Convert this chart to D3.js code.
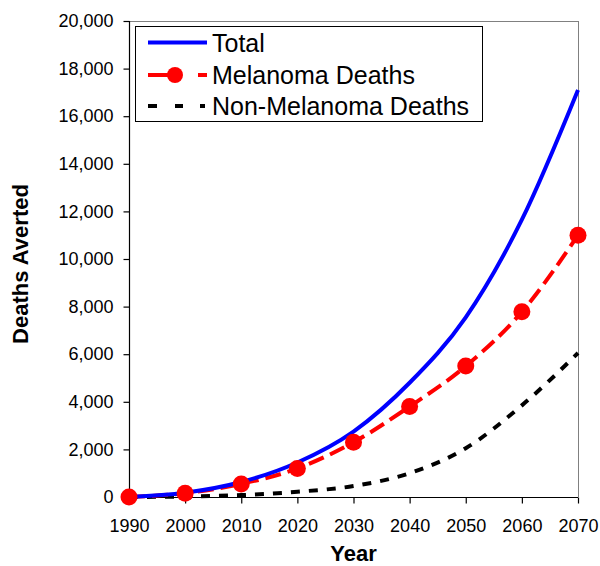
<!DOCTYPE html>
<html>
<head>
<meta charset="utf-8">
<script src="https://cdn.jsdelivr.net/npm/d3@7/dist/d3.min.js"></script>
<style>
  html, body { margin: 0; padding: 0; background: #fff; }
  svg { display: block; font-family: Arial, "Liberation Sans", sans-serif; }
</style>
</head>
<body>
<svg id="chart" width="600" height="566"></svg>
<script>
// ---- data ----
const years = [1990, 2000, 2010, 2020, 2030, 2040, 2050, 2060, 2070];
const totalDeaths = [0, 180, 630, 1450, 2750, 4800, 7550, 11650, 17100];
const melanomaDeaths = [0, 160, 550, 1200, 2300, 3800, 5500, 7780, 11000];
const nonMelanomaDeaths = [0, 20, 80, 220, 460, 1000, 2050, 3850, 6050];
const yTicks = [0, 2000, 4000, 6000, 8000, 10000, 12000, 14000, 16000, 18000, 20000];
const xTicks = [1990, 2000, 2010, 2020, 2030, 2040, 2050, 2060, 2070];
const legendLabels = ["Total", "Melanoma Deaths", "Non-Melanoma Deaths"];
const xTitle = "Year";
const yTitle = "Deaths Averted";

// ---- layout ----
const pL = 129, pR = 578, pT = 21, pB = 497;
const svg = d3.select("#chart");
const x = d3.scaleLinear().domain([1990, 2070]).range([pL, pR]);
const y = d3.scaleLinear().domain([0, 20000]).range([pB, pT]);
const fmt = d3.format(",");

// plot border (top/right grey)
svg.append("line").attr("x1", pL).attr("x2", pR).attr("y1", pT + 0.5).attr("y2", pT + 0.5)
  .attr("stroke", "#808080").attr("stroke-width", 1);
svg.append("line").attr("x1", pR + 0.5).attr("x2", pR + 0.5).attr("y1", pT).attr("y2", pB)
  .attr("stroke", "#808080").attr("stroke-width", 1);

// axes
const yAxis = d3.axisLeft(y).tickValues(yTicks).tickFormat(fmt).tickSize(6).tickPadding(10);
const gy = svg.append("g").attr("transform", `translate(${pL + 0.5},0)`).call(yAxis);
const xAxis = d3.axisBottom(x).tickValues(xTicks).tickFormat(d3.format("d")).tickSize(6).tickPadding(16);
const gx = svg.append("g").attr("transform", `translate(0,${pB + 0.5})`).call(xAxis);
[gx, gy].forEach(g => {
  g.selectAll(".domain").attr("stroke", "#000").attr("stroke-width", 1.2);
  g.selectAll(".tick line").attr("stroke", "#000").attr("stroke-width", 1.2);
  g.selectAll(".tick text").attr("font-size", 18).attr("fill", "#000")
    .attr("font-family", "Arial, 'Liberation Sans', sans-serif");
});
gy.selectAll(".domain").attr("d", `M0,${pT}V${pB}`);
gx.selectAll(".domain").attr("d", `M${pL},0H${pR}`);

// titles
svg.append("text").attr("x", (pL + pR) / 2).attr("y", 561)
  .attr("text-anchor", "middle").attr("font-size", 22).attr("font-weight", "bold").text(xTitle);
svg.append("text").attr("transform", `translate(28,${(pT + pB) / 2 + 5}) rotate(-90)`)
  .attr("text-anchor", "middle").attr("font-size", 22).attr("font-weight", "bold").text(yTitle);

// lines
const mk = arr => years.map((yr, i) => ({ yr, v: arr[i] }));
const line = d3.line().x(d => x(d.yr)).y(d => y(d.v)).curve(d3.curveMonotoneX);

const plot = svg.append("g");
plot.append("path").datum(mk(nonMelanomaDeaths)).attr("d", line)
  .attr("fill", "none").attr("stroke", "#000").attr("stroke-width", 4)
  .attr("stroke-dasharray", "9,9");
plot.append("path").datum(mk(melanomaDeaths)).attr("d", line)
  .attr("fill", "none").attr("stroke", "#ff0000").attr("stroke-width", 4)
  .attr("stroke-dasharray", "16,7");
plot.append("path").datum(mk(totalDeaths)).attr("d", line)
  .attr("fill", "none").attr("stroke", "#0000ff").attr("stroke-width", 4);
plot.selectAll("circle.mel").data(mk(melanomaDeaths)).enter().append("circle")
  .attr("class", "mel").attr("cx", d => x(d.yr)).attr("cy", d => y(d.v)).attr("r", 8.5)
  .attr("fill", "#ff0000");

// legend
const lg = svg.append("g");
lg.append("rect").attr("x", 135.5).attr("y", 26.5).attr("width", 347).attr("height", 95)
  .attr("fill", "#fff").attr("stroke", "#000").attr("stroke-width", 1);
const rowsY = [42.5, 75, 106];
lg.append("line").attr("x1", 148).attr("x2", 207).attr("y1", rowsY[0]).attr("y2", rowsY[0])
  .attr("stroke", "#0000ff").attr("stroke-width", 4);
lg.append("line").attr("x1", 148).attr("x2", 207).attr("y1", rowsY[1]).attr("y2", rowsY[1])
  .attr("stroke", "#ff0000").attr("stroke-width", 4).attr("stroke-dasharray", "23,27,9");
lg.append("circle").attr("cx", 175).attr("cy", rowsY[1]).attr("r", 8).attr("fill", "#ff0000");
lg.append("line").attr("x1", 148).attr("x2", 207).attr("y1", rowsY[2]).attr("y2", rowsY[2])
  .attr("stroke", "#000").attr("stroke-width", 4).attr("stroke-dasharray", "9,18,8,17,5");
legendLabels.forEach((t, i) => {
  lg.append("text").attr("x", 212).attr("y", rowsY[i] + 9).attr("font-size", 25)
    .attr("fill", "#000").text(t);
});
</script>
</body>
</html>
